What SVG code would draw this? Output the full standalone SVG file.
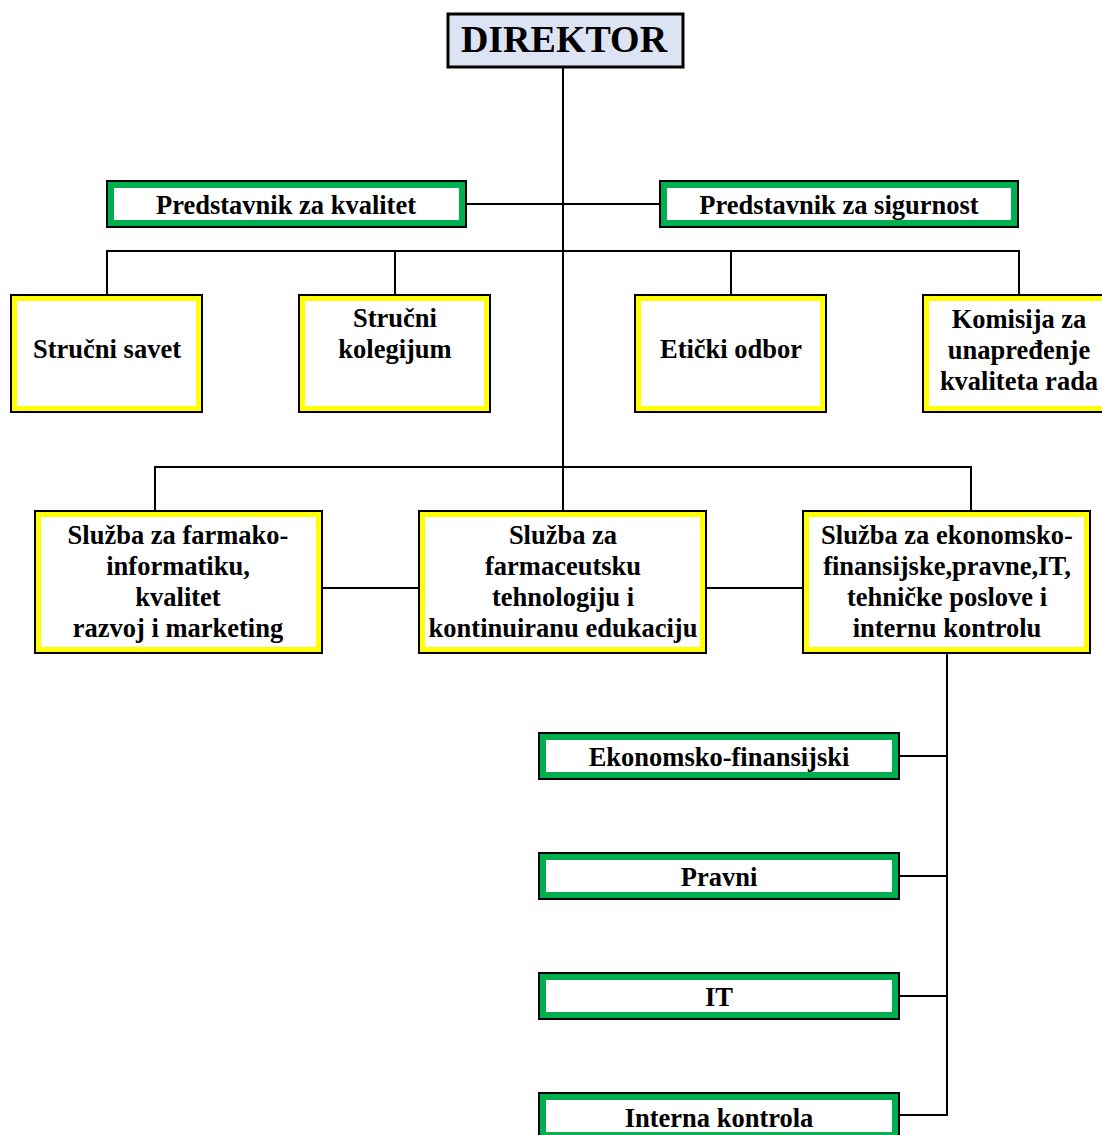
<svg xmlns="http://www.w3.org/2000/svg" width="1102" height="1135" viewBox="0 0 1102 1135">
  <style>
    .t { font-family: "Liberation Serif", "Times New Roman", serif; font-weight: bold; font-size: 26.5px; fill: #000; text-anchor: middle; }
    .big { font-size: 38px; }
    .yb { fill: #ffff00; stroke: #000; stroke-width: 2; }
    .gb { fill: #00b050; stroke: #000; stroke-width: 2; }
    .in { fill: #fff; }
    .ln { stroke: #000; stroke-width: 2; fill: none; }
  </style>
  <rect width="1102" height="1135" fill="#fff"/>

  <g id="connectors">
    <line class="ln" x1="563" y1="68" x2="563" y2="510"/>
    <line class="ln" x1="467" y1="204" x2="659" y2="204"/>
    <polyline class="ln" points="107,294 107,251 1019,251 1019,294"/>
    <line class="ln" x1="395" y1="251" x2="395" y2="294"/>
    <line class="ln" x1="731" y1="251" x2="731" y2="294"/>
    <polyline class="ln" points="155,510 155,467 971,467 971,510"/>
    <line class="ln" x1="323" y1="588" x2="418" y2="588"/>
    <line class="ln" x1="707" y1="588" x2="802" y2="588"/>
    <polyline class="ln" points="947,654 947,1115 899,1115"/>
    <line class="ln" x1="899" y1="756" x2="947" y2="756"/>
    <line class="ln" x1="899" y1="876" x2="947" y2="876"/>
    <line class="ln" x1="899" y1="996" x2="947" y2="996"/>
  </g>

  <g id="direktor">
    <rect x="448" y="14" width="235" height="53" fill="#dce3f3" stroke="#000" stroke-width="3"/>
    <text class="t big" x="564" y="52">DIREKTOR</text>
  </g>

  <g id="predstavnik-kvalitet">
    <rect class="gb" x="107" y="181" width="359" height="46"/>
    <rect class="in" x="114" y="188" width="345" height="32"/>
    <text class="t" x="286" y="214">Predstavnik za kvalitet</text>
  </g>
  <g id="predstavnik-sigurnost">
    <rect class="gb" x="660" y="181" width="358" height="46"/>
    <rect class="in" x="667" y="188" width="344" height="32"/>
    <text class="t" x="839" y="214">Predstavnik za sigurnost</text>
  </g>

  <g id="strucni-savet">
    <rect class="yb" x="11" y="295" width="191" height="117"/>
    <rect class="in" x="17" y="301" width="179" height="105"/>
    <text class="t" x="107" y="358">Stručni savet</text>
  </g>
  <g id="strucni-kolegijum">
    <rect class="yb" x="299" y="295" width="191" height="117"/>
    <rect class="in" x="305" y="301" width="179" height="105"/>
    <text class="t" x="395" y="327">Stručni</text>
    <text class="t" x="395" y="358">kolegijum</text>
  </g>
  <g id="eticki-odbor">
    <rect class="yb" x="635" y="295" width="191" height="117"/>
    <rect class="in" x="641" y="301" width="179" height="105"/>
    <text class="t" x="731" y="358">Etički odbor</text>
  </g>
  <g id="komisija">
    <rect class="yb" x="923" y="295" width="191" height="117"/>
    <rect class="in" x="929" y="301" width="179" height="105"/>
    <text class="t" x="1019" y="328">Komisija za</text>
    <text class="t" x="1019" y="359">unapređenje</text>
    <text class="t" x="1019" y="390">kvaliteta rada</text>
  </g>

  <g id="sluzba-farmakoinformatika">
    <rect class="yb" x="35" y="511" width="287" height="142"/>
    <rect class="in" x="41" y="517" width="275" height="130"/>
    <text class="t" x="178" y="544">Služba za farmako-</text>
    <text class="t" x="178" y="575">informatiku,</text>
    <text class="t" x="178" y="606">kvalitet</text>
    <text class="t" x="178" y="637">razvoj i marketing</text>
  </g>
  <g id="sluzba-tehnologija">
    <rect class="yb" x="419" y="511" width="287" height="142"/>
    <rect class="in" x="425" y="517" width="275" height="130"/>
    <text class="t" x="563" y="544">Služba za</text>
    <text class="t" x="563" y="575">farmaceutsku</text>
    <text class="t" x="563" y="606">tehnologiju i</text>
    <text class="t" x="563" y="637">kontinuiranu edukaciju</text>
  </g>
  <g id="sluzba-ekonomska">
    <rect class="yb" x="803" y="511" width="287" height="142"/>
    <rect class="in" x="809" y="517" width="275" height="130"/>
    <text class="t" x="947" y="544">Služba za ekonomsko-</text>
    <text class="t" x="947" y="575">finansijske,pravne,IT,</text>
    <text class="t" x="947" y="606">tehničke poslove i</text>
    <text class="t" x="947" y="637">internu kontrolu</text>
  </g>

  <g id="ekonomsko-finansijski">
    <rect class="gb" x="539" y="733" width="360" height="46"/>
    <rect class="in" x="546" y="740" width="346" height="32"/>
    <text class="t" x="719" y="766">Ekonomsko-finansijski</text>
  </g>
  <g id="pravni">
    <rect class="gb" x="539" y="853" width="360" height="46"/>
    <rect class="in" x="546" y="860" width="346" height="32"/>
    <text class="t" x="719" y="886">Pravni</text>
  </g>
  <g id="it">
    <rect class="gb" x="539" y="973" width="360" height="46"/>
    <rect class="in" x="546" y="980" width="346" height="32"/>
    <text class="t" x="719" y="1006">IT</text>
  </g>
  <g id="interna-kontrola">
    <rect class="gb" x="539" y="1093" width="360" height="46"/>
    <rect class="in" x="546" y="1100" width="346" height="32"/>
    <text class="t" x="719" y="1127">Interna kontrola</text>
  </g>
</svg>
